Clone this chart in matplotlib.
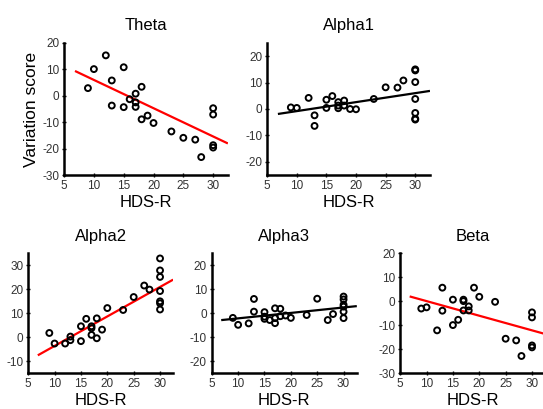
import numpy as np
import matplotlib
matplotlib.use("Agg")
import matplotlib.pyplot as plt

plt.rcParams['font.family'] = ['Liberation Sans', 'DejaVu Sans']
plt.rcParams['axes.unicode_minus'] = False

# HDS-R scores and variation scores
theta_x = [9, 10, 12, 13, 13, 15, 15, 16, 17, 17, 17, 18, 18, 19, 20, 23, 25, 27, 28, 30, 30, 30, 30]
theta_y = [2.9, 10.1, 15.3, 5.8, -3.7, 10.8, -4.3, -1.3, 0.8, -2.5, -4.2, 3.4, -8.9, -7.5, -10.3,
           -13.5, -15.9, -16.6, -23.2, -4.7, -7.1, -18.7, -19.6]

alpha1_x = [9, 10, 12, 13, 13, 15, 15, 16, 17, 17, 17, 18, 18, 19, 20, 23, 25, 27, 28,
            30, 30, 30, 30, 30, 30, 30]
alpha1_y = [0.6, 0.4, 4.2, -2.4, -6.4, 3.5, 0.4, 4.9, 2.6, 1.3, 0.3, 3.2, 1.3, 0.0, -0.1,
            3.8, 8.2, 8.1, 10.8, 15.0, 14.6, 10.2, 3.8, -1.5, -3.7, -4.0]

alpha2_x = [9, 10, 12, 13, 13, 15, 15, 16, 17, 17, 17, 18, 18, 19, 20, 23, 25, 27, 28,
            30, 30, 30, 30, 30, 30, 30]
alpha2_y = [1.7, -2.7, -2.7, 0.2, -1.3, 4.5, -1.7, 7.6, 4.5, 3.7, 0.9, 7.8, -0.5, 3.1, 12.1,
            11.3, 16.7, 21.5, 19.8, 32.8, 27.8, 25.1, 19.2, 14.9, 14.1, 11.5]

alpha3_x = [9, 10, 12, 13, 13, 15, 15, 15, 16, 17, 17, 17, 18, 18, 19, 20, 23, 25, 27, 28,
            30, 30, 30, 30, 30, 30]
alpha3_y = [-2.0, -4.9, -4.3, 5.9, 0.6, 0.4, -1.5, -2.4, -2.9, 2.0, -2.1, -4.2, 1.8, -1.3, -1.0,
            -2.0, -0.8, 6.0, -2.9, -0.4, 6.9, 5.7, 3.5, 2.7, 0.6, -2.1]

beta_x = [9, 10, 12, 13, 13, 15, 15, 16, 17, 17, 17, 18, 18, 19, 20, 23, 25, 27, 28, 30, 30, 30, 30]
beta_y = [-3.1, -2.6, -12.2, 5.6, -4.0, 0.6, -10.0, -7.8, 0.6, 0.0, -3.9, -2.2, -3.9, 5.6, 1.8,
          -0.3, -15.7, -16.4, -22.9, -4.7, -6.8, -18.5, -19.3]

# fitted lines (slope, intercept) as drawn in the figure
fits = {'Theta': (-1.07, 16.7), 'Alpha1': (0.34, -4.2), 'Alpha2': (1.23, -16.0),
        'Alpha3': (0.227, -4.47), 'Beta': (-0.61, 6.1)}

panels = [
    ('Theta', theta_x, theta_y, (-30, 20), [-30, -20, -10, 0, 10, 20], 'red',
     [0.118, 0.572, 0.302, 0.323]),
    ('Alpha1', alpha1_x, alpha1_y, (-25, 25), [-20, -10, 0, 10, 20], 'black',
     [0.492, 0.572, 0.300, 0.323]),
    ('Alpha2', alpha2_x, alpha2_y, (-15, 35), [-10, 0, 10, 20, 30], 'red',
     [0.052, 0.088, 0.267, 0.293]),
    ('Alpha3', alpha3_x, alpha3_y, (-25, 25), [-20, -10, 0, 10, 20], 'black',
     [0.390, 0.088, 0.267, 0.293]),
    ('Beta', beta_x, beta_y, (-30, 20), [-30, -20, -10, 0, 10, 20], 'red',
     [0.737, 0.088, 0.267, 0.293]),
]

fig = plt.figure(figsize=(5.43, 4.09), dpi=100)

for name, xs, ys, ylim, yticks, lc, pos in panels:
    ax = fig.add_axes(pos)
    ax.scatter(xs, ys, s=18, facecolors='none', edgecolors='black', linewidths=1.4, zorder=3)
    slope, icpt = fits[name]
    lx = np.array([7, 32.3])
    ax.plot(lx, slope * lx + icpt, color=lc, lw=1.6, zorder=2)
    ax.set_xlim(5, 32.5)
    ax.set_ylim(*ylim)
    ax.set_xticks([5, 10, 15, 20, 25, 30])
    ax.set_yticks(yticks)
    for side in ['top', 'right']:
        ax.spines[side].set_visible(False)
    for side in ['left', 'bottom']:
        ax.spines[side].set_linewidth(1.8)
    ax.tick_params(direction='inout', length=3, width=1, labelsize=8.5,
                   labelcolor='#333333', pad=2)
    ax.set_title(name, fontsize=12, pad=9)
    ax.set_xlabel('HDS-R', fontsize=12, labelpad=2)
    if name == 'Theta':
        ax.set_ylabel('Variation score', fontsize=12.5, labelpad=2)

fig.savefig('out.png', dpi=100)
